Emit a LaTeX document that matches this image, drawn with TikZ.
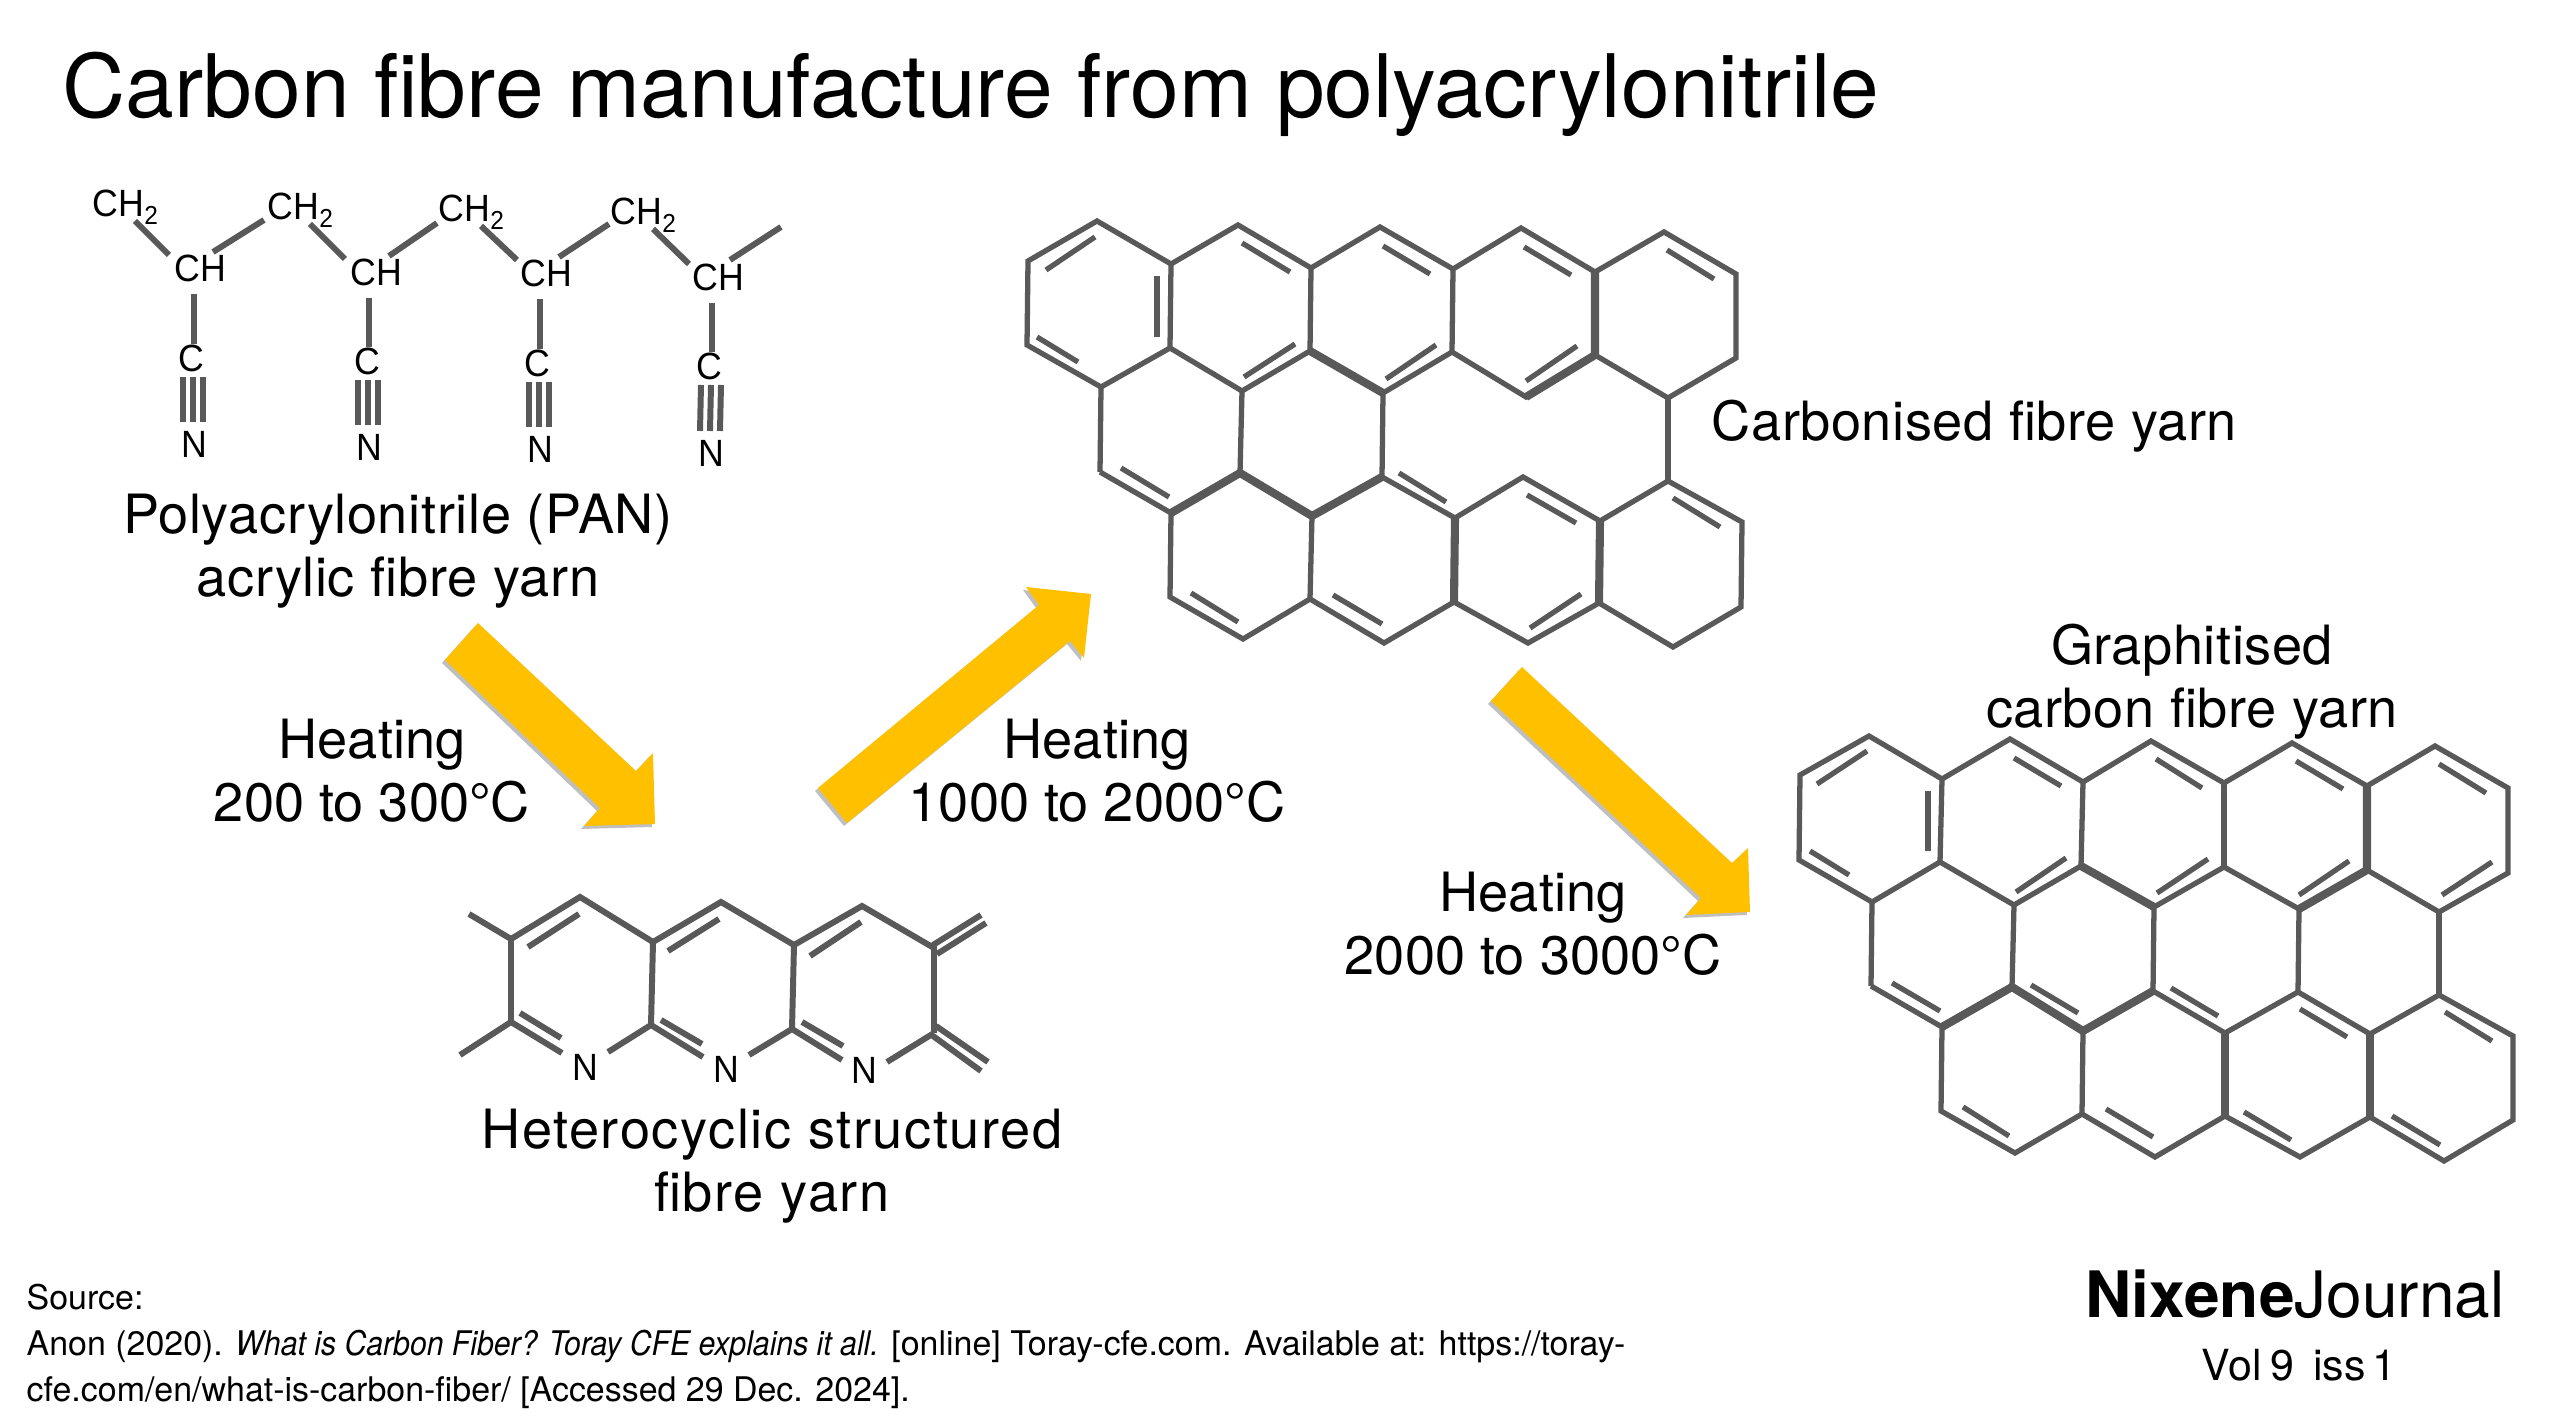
\documentclass[tikz,border=0pt]{standalone}
\usepackage{fontspec}
\setmainfont{TeX Gyre Heros}
\newfontfamily\chemfont[FakeStretch=0.94]{Liberation Sans}
\usetikzlibrary{calc,shadows}
\newcommand{\chtwo}{CH\raisebox{-0.8mm}{\fontsize{7.4}{8}\selectfont 2}}
\begin{document}
\begin{tikzpicture}[x=0.01cm,y=-0.01cm,
	bond/.style={draw=bondgrey,line width=1.5pt},
	chainbond/.style={draw=bondgrey,line width=1.7pt},
	heavybond/.style={draw=bondgrey,line width=2.3pt},
	atom/.style={inner sep=0pt,font=\chemfont\fontsize{10.8}{12}\selectfont},
	headline/.style={inner sep=0pt,anchor=base west,font=\fontsize{24.9}{28}\selectfont},
	caption/.style={inner sep=0pt,align=center,font=\fontsize{15.4}{17.9}\selectfont\addfontfeature{LetterSpace=#1}},
	caption/.default=0,
	sourcetext/.style={inner sep=0pt,anchor=west,align=left,font=\fontsize{9.65}{13.1}\selectfont},
	heatarrow/.style={fill=arrowyellow,drop shadow={shadow xshift=-0.03cm,shadow yshift=-0.03cm,opacity=0.25,fill=black}}]
	\definecolor{bondgrey}{HTML}{595959}
	\definecolor{arrowyellow}{HTML}{FFC000}
	\useasboundingbox (0,0) rectangle (2560,1428);

	%title
	\node[headline] (title) at (62,118) {Carbon fibre manufacture from polyacrylonitrile};

	%PAN atoms
	\node[atom,anchor=base west] (chtwoa) at (92,217) {\chtwo};
	\node[atom,anchor=base west] (chtwob) at (267,220) {\chtwo};
	\node[atom,anchor=base west] (chtwoc) at (438,222) {\chtwo};
	\node[atom,anchor=base west] (chtwod) at (610,225) {\chtwo};
	\node[atom,anchor=base west] (cha) at (174,282) {CH};
	\node[atom,anchor=base west] (chb) at (350,286) {CH};
	\node[atom,anchor=base west] (chc) at (520,287) {CH};
	\node[atom,anchor=base west] (chd) at (692,291) {CH};
	\node[atom,anchor=base] (ca) at (191,372) {C};
	\node[atom,anchor=base] (cb) at (367,375) {C};
	\node[atom,anchor=base] (cc) at (537,377) {C};
	\node[atom,anchor=base] (cd) at (709,380) {C};
	\node[atom,anchor=base] (na) at (194,458) {N};
	\node[atom,anchor=base] (nb) at (369,461) {N};
	\node[atom,anchor=base] (nc) at (540,463) {N};
	\node[atom,anchor=base] (nd) at (711,467) {N};
	\coordinate (chaintail) at (781,227);

	%PAN backbone
	\draw[chainbond] ($(chtwoa.base west)+(43,4)$) -- ($(cha.base west)+(-5,-27)$);
	\draw[chainbond] ($(cha.base west)+(39,-30)$) -- ($(chtwob.base west)+(-3,0)$);
	\draw[chainbond] ($(chtwob.base west)+(43,4)$) -- ($(chb.base west)+(-5,-27)$);
	\draw[chainbond] ($(chb.base west)+(39,-30)$) -- ($(chtwoc.base west)+(-1,1)$);
	\draw[chainbond] ($(chtwoc.base west)+(43,4)$) -- ($(chc.base west)+(-3,-27)$);
	\draw[chainbond] ($(chc.base west)+(39,-30)$) -- ($(chtwod.base west)+(-1,-1)$);
	\draw[chainbond] ($(chtwod.base west)+(43,4)$) -- ($(chd.base west)+(-3,-27)$);
	\draw[chainbond] ($(chd.base west)+(38,-31)$) -- (chaintail);

	%PAN side groups
	\draw[chainbond] ($(cha.base west)+(20,12)$) -- ($(ca.base)+(3,-28)$);
	\draw[chainbond] ($(chb.base west)+(19,12)$) -- ($(cb.base)+(2,-28)$);
	\draw[chainbond] ($(chc.base west)+(20,12)$) -- ($(cc.base)+(3,-28)$);
	\draw[chainbond] ($(chd.base west)+(20,12)$) -- ($(cd.base)+(3,-28)$);
	\draw[chainbond] ($(ca.base)+(-8,5)$) -- ($(na.base)+(-11,-36)$);
	\draw[chainbond] ($(ca.base)+(2,5)$) -- ($(na.base)+(-1,-36)$);
	\draw[chainbond] ($(ca.base)+(12,5)$) -- ($(na.base)+(9,-36)$);
	\draw[chainbond] ($(cb.base)+(-9,5)$) -- ($(nb.base)+(-11,-36)$);
	\draw[chainbond] ($(cb.base)+(1,5)$) -- ($(nb.base)+(-1,-36)$);
	\draw[chainbond] ($(cb.base)+(11,5)$) -- ($(nb.base)+(9,-36)$);
	\draw[chainbond] ($(cc.base)+(-8,5)$) -- ($(nc.base)+(-11,-36)$);
	\draw[chainbond] ($(cc.base)+(2,5)$) -- ($(nc.base)+(-1,-36)$);
	\draw[chainbond] ($(cc.base)+(12,5)$) -- ($(nc.base)+(9,-36)$);
	\draw[chainbond] ($(cd.base)+(-8,5)$) -- ($(nd.base)+(-11,-36)$);
	\draw[chainbond] ($(cd.base)+(2,5)$) -- ($(nd.base)+(-1,-36)$);
	\draw[chainbond] ($(cd.base)+(12,5)$) -- ($(nd.base)+(9,-36)$);

	%heterocyclic rings
	\node[atom,anchor=base] (nleft) at (585,1080) {N};
	\node[atom,anchor=base] (nmid) at (726,1082) {N};
	\node[atom,anchor=base] (nright) at (864,1083) {N};
	\coordinate (ringa) at (511,1022);
	\coordinate (ringb) at (651,1025);
	\coordinate (ringc) at (792,1029);
	\coordinate (ringd) at (934,1033);
	\draw[chainbond] (469,914) -- (511,939) -- (580,897) -- (653,942) -- (721,902) -- (794,945) -- (862,906) -- (934,948) -- (ringd);
	\draw[chainbond] (511,939) -- (ringa) -- (460,1055);
	\draw[chainbond] (653,942) -- (ringb);
	\draw[chainbond] (794,945) -- (ringc);
	\draw[chainbond] (ringa) -- ($(nleft.base)+(-23,-27)$);
	\draw[chainbond] ($(nleft.base)+(23,-28)$) -- (ringb) -- ($(nmid.base)+(-23,-25)$);
	\draw[chainbond] ($(nmid.base)+(23,-27)$) -- (ringc) -- ($(nright.base)+(-22,-23)$);
	\draw[chainbond] ($(nright.base)+(23,-21)$) -- (ringd);
	\draw[chainbond] (528,947) -- (579,914); %inner lines
	\draw[chainbond] (668,951) -- (719,919);
	\draw[chainbond] (810,956) -- (861,922);
	\draw[chainbond] (520,1013) -- (561,1038);
	\draw[chainbond] (661,1020) -- (702,1044);
	\draw[chainbond] (802,1022) -- (843,1046);
	\draw[chainbond] (933,945) -- (981,915); %end groups
	\draw[chainbond] (937,954) -- (986,923);
	\draw[chainbond] (936,1026) -- (988,1062);
	\draw[chainbond] (933,1036) -- (981,1071);

	%carbonised sheet
	\draw[bond] (1028,261) -- (1097,221) -- (1171,264) -- (1238,225) -- (1311,268) -- (1380,227) -- (1453,269) -- (1521,228) -- (1595,272) -- (1664,232) -- (1736,274) -- (1736,358) -- (1668,398) -- (1595,355) -- (1526,397) -- (1452,352) -- (1383,393) -- (1310,351) -- (1242,391) -- (1170,348) -- (1101,387) -- (1027,345) -- cycle;
	\draw[bond] (1171,264) -- (1170,348);
	\draw[bond] (1311,268) -- (1310,351);
	\draw[bond] (1453,269) -- (1452,352);
	\draw[bond] (1595,272) -- (1595,355);
	\draw[bond] (1101,387) -- (1100,472);
	\draw[bond] (1242,391) -- (1240,473);
	\draw[bond] (1383,393) -- (1382,477);
	\draw[bond] (1668,398) -- (1668,481);
	\draw[bond] (1100,472) -- (1171,513) -- (1240,473) -- (1312,516) -- (1382,477) -- (1455,518) -- (1523,477) -- (1600,521) -- (1668,481) -- (1742,522) -- (1741,607) -- (1673,647) -- (1599,603) -- (1528,643) -- (1454,602) -- (1384,643) -- (1310,599) -- (1243,639) -- (1170,597) -- (1171,513);
	\draw[bond] (1312,516) -- (1310,599);
	\draw[bond] (1455,518) -- (1454,602);
	\draw[bond] (1600,521) -- (1599,603);
	\draw[heavybond] (1310,351) -- (1383,393); %heavier edges
	\draw[heavybond] (1526,397) -- (1595,355) -- (1595,272);
	\draw[heavybond] (1171,513) -- (1240,473) -- (1312,516) -- (1382,477);
	\draw[heavybond] (1455,518) -- (1454,602);
	\draw[heavybond] (1600,521) -- (1599,603);
	\draw[bond] (1095,237) -- (1046,270); %inner lines
	\draw[bond] (1037,337) -- (1078,362);
	\draw[bond] (1157,276) -- (1157,337);
	\draw[bond] (1242,243) -- (1290,272);
	\draw[bond] (1383,246) -- (1430,274);
	\draw[bond] (1524,247) -- (1571,275);
	\draw[bond] (1667,250) -- (1714,279);
	\draw[bond] (1244,377) -- (1295,344);
	\draw[bond] (1386,379) -- (1436,345);
	\draw[bond] (1526,381) -- (1577,346);
	\draw[bond] (1121,468) -- (1169,497);
	\draw[bond] (1399,473) -- (1446,502);
	\draw[bond] (1527,495) -- (1576,523);
	\draw[bond] (1673,498) -- (1720,527);
	\draw[bond] (1191,593) -- (1238,622);
	\draw[bond] (1333,595) -- (1382,624);
	\draw[bond] (1530,628) -- (1581,594);

	%graphitised sheet
	\draw[bond] (1800,775) -- (1869,736) -- (1942,779) -- (2010,739) -- (2083,782) -- (2151,741) -- (2224,783) -- (2292,743) -- (2367,786) -- (2435,746) -- (2508,788) -- (2508,873) -- (2439,912) -- (2367,870) -- (2299,909) -- (2224,867) -- (2154,907) -- (2081,866) -- (2014,905) -- (1940,862) -- (1872,902) -- (1799,860) -- cycle;
	\draw[bond] (1942,779) -- (1940,862);
	\draw[bond] (2083,782) -- (2081,866);
	\draw[bond] (2224,783) -- (2224,867);
	\draw[bond] (2367,786) -- (2367,870);
	\draw[bond] (1872,902) -- (1871,986);
	\draw[bond] (2014,905) -- (2012,987);
	\draw[bond] (2154,907) -- (2153,991);
	\draw[bond] (2299,909) -- (2298,992);
	\draw[bond] (2439,912) -- (2439,995);
	\draw[bond] (1871,986) -- (1942,1027) -- (2012,987) -- (2083,1031) -- (2153,991) -- (2225,1033) -- (2298,992) -- (2370,1034) -- (2439,995) -- (2513,1036) -- (2513,1120) -- (2444,1161) -- (2370,1117) -- (2300,1157) -- (2225,1116) -- (2155,1157) -- (2082,1114) -- (2015,1153) -- (1941,1111) -- (1942,1027);
	\draw[bond] (2083,1031) -- (2082,1114);
	\draw[bond] (2225,1033) -- (2225,1116);
	\draw[bond] (2370,1034) -- (2370,1117);
	\draw[heavybond] (2081,866) -- (2154,907); %heavier edges
	\draw[heavybond] (2299,909) -- (2367,870) -- (2367,786);
	\draw[heavybond] (1942,1027) -- (2012,987) -- (2083,1031) -- (2153,991);
	\draw[heavybond] (2225,1033) -- (2225,1116);
	\draw[heavybond] (2370,1034) -- (2370,1117);
	\draw[bond] (1867,751) -- (1817,784); %inner lines
	\draw[bond] (1810,851) -- (1849,875);
	\draw[bond] (1928,791) -- (1928,851);
	\draw[bond] (2014,758) -- (2061,786);
	\draw[bond] (2156,759) -- (2202,788);
	\draw[bond] (2296,761) -- (2343,789);
	\draw[bond] (2439,764) -- (2486,793);
	\draw[bond] (2016,892) -- (2066,858);
	\draw[bond] (2157,893) -- (2208,859);
	\draw[bond] (2299,895) -- (2349,861);
	\draw[bond] (2442,895) -- (2492,862);
	\draw[bond] (1892,983) -- (1940,1011);
	\draw[bond] (2031,985) -- (2078,1013);
	\draw[bond] (2171,988) -- (2218,1016);
	\draw[bond] (2300,1009) -- (2347,1037);
	\draw[bond] (2445,1012) -- (2492,1041);
	\draw[bond] (1963,1107) -- (2009,1136);
	\draw[bond] (2106,1109) -- (2153,1137);
	\draw[bond] (2244,1112) -- (2291,1140);
	\draw[bond] (2392,1116) -- (2440,1145);

	%arrows
	\path[heatarrow] (478,623) -- (636,771) -- (653,753) -- (655,824) -- (584,826) -- (600,808) -- (445,660) -- cycle;
	\path[heatarrow] (818,788) -- (1039,605) -- (1026,587) -- (1091,594) -- (1084,658) -- (1070,641) -- (847,823) -- cycle;
	\path[heatarrow] (1522,667) -- (1732,863) -- (1748,848) -- (1750,912) -- (1686,915) -- (1701,898) -- (1491,701) -- cycle;

	%labels
	\node[caption=1.2] (panlabel) at (398,551) {Polyacrylonitrile (PAN)\\acrylic fibre yarn};
	\node[caption] (heatone) at (372,771) {Heating\\200 to 300°C};
	\node[caption] (heattwo) at (1097,771) {Heating\\1000 to 2000°C};
	\node[caption] (heatthree) at (1533,924) {Heating\\2000 to 3000°C};
	\node[caption=1,anchor=west] (carbonlabel) at (1711,426) {Carbonised fibre yarn};
	\node[caption=1] (graphitelabel) at (2192,682) {Graphitised\\carbon fibre yarn};
	\node[caption=3] (ringlabel) at (772,1166) {Heterocyclic structured\\fibre yarn};

	%source and journal
	\node[sourcetext] (source) at (26,1346) {Source:\\Anon (2020). \textit{\addfontfeature{FakeStretch=0.89}What is Carbon Fiber? Toray CFE explains it all.} [online] Toray-cfe.com. Available at: https://toray-\\cfe.com/en/what-is-carbon-fiber/ [Accessed 29 Dec. 2024].};
	\node[inner sep=0pt,font=\fontsize{18.2}{20}\selectfont] (journal) at (2295,1294) {\textbf{Nixene}Journal};
	\node[inner sep=0pt,font=\fontsize{12.2}{14}\selectfont] (issue) at (2299,1365) {Vol\hspace{0.2em}9\hspace{0.45em}iss\hspace{0.15em}1};
\end{tikzpicture}
\end{document}
